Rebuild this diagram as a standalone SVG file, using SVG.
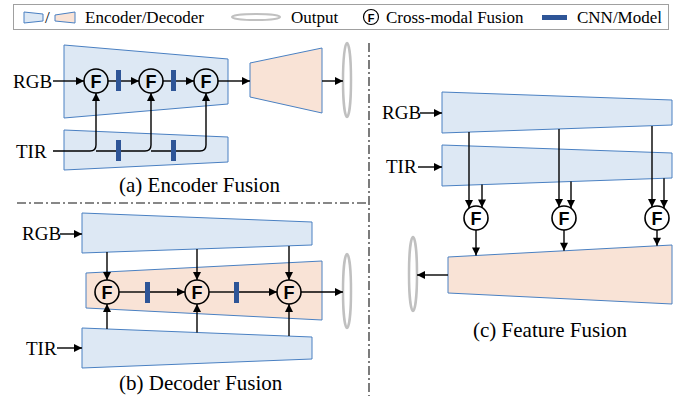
<svg xmlns="http://www.w3.org/2000/svg" width="681" height="396" viewBox="0 0 681 396">
<defs>
<marker id="ah" viewBox="0 0 10 10" refX="10" refY="5" markerWidth="9" markerHeight="8" markerUnits="userSpaceOnUse" orient="auto"><path d="M0,0 L10,5 L0,10 z" fill="#000"/></marker>
</defs>
<style>
.enc{fill:#dde8f4;stroke:#4a80c2;stroke-width:1}
.dec{fill:#f9e3d6;stroke:#4a80c2;stroke-width:1}
.bar{fill:#2e5597}
.out{fill:none;stroke:#c0c0c0;stroke-width:2.5}
.fc{fill:none;stroke:#000;stroke-width:1.6}
.ft{font-family:'Liberation Sans',Arial,sans-serif;font-weight:bold;font-size:18px;text-anchor:middle}
.lbl{font-size:19px;fill:#000}
.cap{font-size:21px;fill:#000}
.leg{font-size:17px;fill:#000}
.ln{fill:none;stroke:#000;stroke-width:1.4}
.ar{fill:none;stroke:#000;stroke-width:1.4;marker-end:url(#ah)}
.dd{fill:none;stroke:#111;stroke-width:1.1;stroke-dasharray:9 3 2 3}
</style>
<rect width="681" height="396" fill="#fff"/>

<g id="legend">
<rect x="13.5" y="4.5" width="655" height="25" fill="none" stroke="#a0a0a0" stroke-width="1"/>
<polygon class="enc" points="24,12 43,14 43,21 24,23"/>
<text class="leg" font-family="Liberation Serif, Times New Roman, serif" x="45" y="23">/</text>
<polygon class="dec" points="55,15 75,12 75,23 55,21"/>
<text class="leg" font-family="Liberation Serif, Times New Roman, serif" x="85" y="23">Encoder/Decoder</text>
<ellipse cx="256" cy="17" rx="24" ry="3" fill="none" stroke="#c0c0c0" stroke-width="2"/>
<text class="leg" font-family="Liberation Serif, Times New Roman, serif" x="291" y="23">Output</text>
<circle cx="371" cy="17" r="7.5" fill="none" stroke="#000" stroke-width="1.2"/>
<text class="ft" x="371" y="21.5" style="font-size:11px">F</text>
<text class="leg" font-family="Liberation Serif, Times New Roman, serif" x="386" y="23">Cross-modal Fusion</text>
<rect class="bar" x="542" y="15" width="25" height="5"/>
<text class="leg" font-family="Liberation Serif, Times New Roman, serif" x="577" y="23">CNN/Model</text>
</g>

<g id="separators">
<line class="dd" x1="17" y1="203" x2="369" y2="203"/>
<line class="dd" x1="369" y1="43" x2="369" y2="396"/>
</g>

<!-- (a) Encoder Fusion -->
<g id="a-rgb-encoder"><polygon class="enc" points="64,45 228,59 228,104 64,118"/></g>
<g id="a-tir-encoder"><polygon class="enc" points="64,130 228,137 228,162 64,170"/></g>
<g id="a-decoder"><polygon class="dec" points="250,63 322,48 322,113 250,97"/></g>
<g id="a-output"><ellipse class="out" cx="347" cy="80" rx="4" ry="37"/></g>
<g id="a-labels" font-family="Liberation Serif, Times New Roman, serif">
<text class="lbl" x="13" y="88">RGB</text>
<text class="lbl" x="16" y="158">TIR</text>
<text class="cap" x="119" y="192">(a) Encoder Fusion</text>
</g>
<g id="a-connectors">
<line class="ar" x1="53" y1="81" x2="84" y2="81"/>
<line class="ln" x1="108" y1="81" x2="118" y2="81"/>
<line class="ar" x1="120" y1="81" x2="139" y2="81"/>
<line class="ln" x1="163" y1="81" x2="173" y2="81"/>
<line class="ar" x1="175" y1="81" x2="194" y2="81"/>
<line class="ar" x1="218" y1="81" x2="250" y2="81"/>
<line class="ar" x1="322" y1="81" x2="343" y2="81"/>
<path class="ar" d="M53,151 H90 Q96,151 96,145 V93"/>
<path class="ar" d="M96,151 H145 Q151,151 151,145 V93"/>
<path class="ar" d="M151,151 H200 Q206,151 206,145 V93"/>
</g>
<g id="a-cnn">
<rect class="bar" x="116" y="70" width="5" height="21"/>
<rect class="bar" x="171" y="70" width="5" height="21"/>
<rect class="bar" x="116" y="140" width="5" height="21"/>
<rect class="bar" x="171" y="140" width="5" height="21"/>
</g>
<g id="a-f1"><circle class="fc" cx="96" cy="81" r="12"/><text class="ft" x="96" y="87.5">F</text></g>
<g id="a-f2"><circle class="fc" cx="151" cy="81" r="12"/><text class="ft" x="151" y="87.5">F</text></g>
<g id="a-f3"><circle class="fc" cx="206" cy="81" r="12"/><text class="ft" x="206" y="87.5">F</text></g>

<!-- (b) Decoder Fusion -->
<g id="b-rgb-encoder"><polygon class="enc" points="82,213 312,222 312,245 82,253"/></g>
<g id="b-decoder"><polygon class="dec" points="86,273 322,261 322,320 86,308"/></g>
<g id="b-tir-encoder"><polygon class="enc" points="82,328 312,337 312,359 82,368"/></g>
<g id="b-output"><ellipse class="out" cx="347" cy="291" rx="4" ry="37"/></g>
<g id="b-labels" font-family="Liberation Serif, Times New Roman, serif">
<text class="lbl" x="22" y="240">RGB</text>
<text class="lbl" x="26" y="355">TIR</text>
<text class="cap" x="119" y="390">(b) Decoder Fusion</text>
</g>
<g id="b-connectors">
<line class="ar" x1="60" y1="234" x2="82" y2="234"/>
<line class="ar" x1="57" y1="348" x2="82" y2="348"/>
<line class="ar" x1="107" y1="252" x2="107" y2="280"/>
<line class="ar" x1="197" y1="249" x2="197" y2="280"/>
<line class="ar" x1="289" y1="246" x2="289" y2="280"/>
<line class="ar" x1="107" y1="329" x2="107" y2="304"/>
<line class="ar" x1="197" y1="332.5" x2="197" y2="304"/>
<line class="ar" x1="289" y1="336" x2="289" y2="304"/>
<line class="ln" x1="119" y1="292" x2="147" y2="292"/>
<line class="ar" x1="149" y1="292" x2="185" y2="292"/>
<line class="ln" x1="209" y1="292" x2="236" y2="292"/>
<line class="ar" x1="238" y1="292" x2="277" y2="292"/>
<line class="ar" x1="301" y1="292" x2="343" y2="292"/>
</g>
<g id="b-cnn">
<rect class="bar" x="145" y="282" width="5" height="21"/>
<rect class="bar" x="234" y="282" width="5" height="21"/>
</g>
<g id="b-f1"><circle class="fc" cx="107" cy="292" r="12"/><text class="ft" x="107" y="298.5">F</text></g>
<g id="b-f2"><circle class="fc" cx="197" cy="292" r="12"/><text class="ft" x="197" y="298.5">F</text></g>
<g id="b-f3"><circle class="fc" cx="289" cy="292" r="12"/><text class="ft" x="289" y="298.5">F</text></g>

<!-- (c) Feature Fusion -->
<g id="c-rgb-encoder"><polygon class="enc" points="442,92 672,100 672,125 442,133"/></g>
<g id="c-tir-encoder"><polygon class="enc" points="442,145 672,153 672,178 442,186"/></g>
<g id="c-decoder"><polygon class="dec" points="448,257 672,245 672,304 448,293"/></g>
<g id="c-output"><ellipse class="out" cx="413" cy="274" rx="4" ry="37"/></g>
<g id="c-labels" font-family="Liberation Serif, Times New Roman, serif">
<text class="lbl" x="382" y="119">RGB</text>
<text class="lbl" x="386" y="173">TIR</text>
<text class="cap" x="473" y="337">(c) Feature Fusion</text>
</g>
<g id="c-connectors">
<line class="ar" x1="420" y1="113" x2="442" y2="113"/>
<line class="ar" x1="418" y1="167" x2="442" y2="167"/>
<line class="ar" x1="469" y1="132" x2="469" y2="208"/>
<line class="ar" x1="482" y1="184.5" x2="482" y2="207.5"/>
<line class="ar" x1="559" y1="129" x2="559" y2="207"/>
<line class="ar" x1="571" y1="181.5" x2="571" y2="208"/>
<line class="ar" x1="652" y1="126" x2="652" y2="207"/>
<line class="ar" x1="664" y1="178.3" x2="664" y2="208"/>
<line class="ar" x1="476" y1="230" x2="476" y2="255.5"/>
<line class="ar" x1="564" y1="230" x2="564" y2="250.8"/>
<line class="ar" x1="657" y1="230" x2="657" y2="245.8"/>
<line class="ar" x1="448" y1="275" x2="417" y2="275"/>
</g>
<g id="c-f1"><circle class="fc" cx="476" cy="218" r="12"/><text class="ft" x="476" y="224.5">F</text></g>
<g id="c-f2"><circle class="fc" cx="564" cy="218" r="12"/><text class="ft" x="564" y="224.5">F</text></g>
<g id="c-f3"><circle class="fc" cx="657" cy="218" r="12"/><text class="ft" x="657" y="224.5">F</text></g>
</svg>
